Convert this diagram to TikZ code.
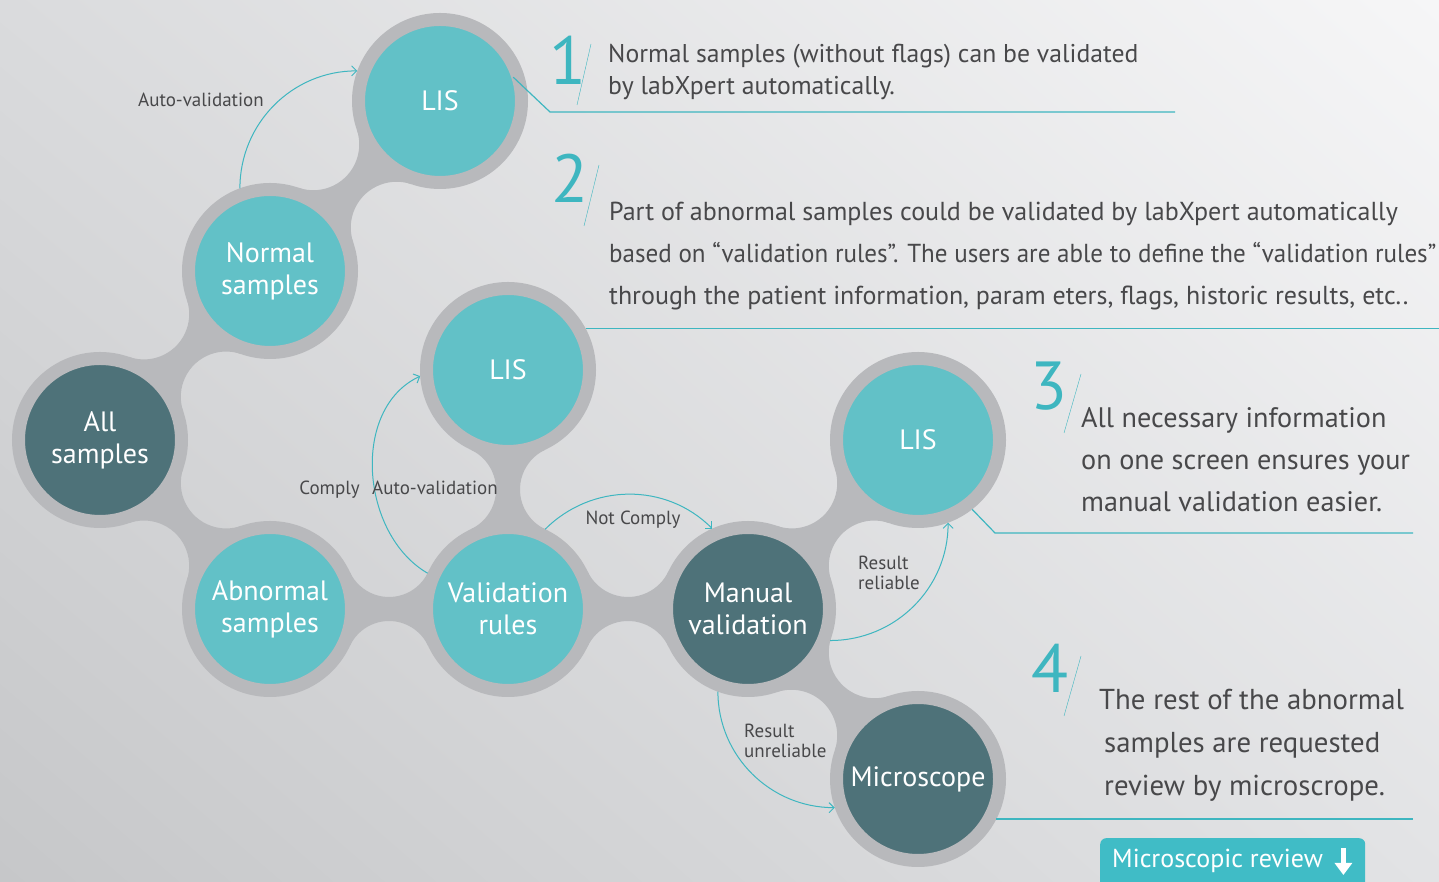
\documentclass[tikz,border=0pt]{standalone}
\usepackage{graphicx}
\usepackage{fontspec}
\setmainfont{PT Sans}
\usetikzlibrary{calc,arrows.meta,shadings}
\definecolor{ringgray}{RGB}{184,185,188}
\definecolor{cyanfill}{RGB}{98,193,199}
\definecolor{darkfill}{RGB}{78,114,121}
\definecolor{lineteal}{RGB}{62,182,192}
\definecolor{btnteal}{RGB}{64,188,198}
\definecolor{textgray}{RGB}{72,72,74}
\definecolor{bgUL}{RGB}{218,219,221}
\definecolor{bgUR}{RGB}{246,246,247}
\definecolor{bgLL}{RGB}{198,199,201}
\definecolor{bgLR}{RGB}{226,227,229}

% waist between two bubbles, #3 = half width of the waist
\newcommand{\neck}[3]{%
  \fill[ringgray] let \p1=(#1), \p2=(#2),
    \n1={veclen(\x2-\x1,\y2-\y1)/2},
    \n2={atan2(\y2-\y1,\x2-\x1)},
    \n3={(\n1/(88-#3)*\n1-88-#3)/2},
    \n4={atan((\n3+#3)/\n1)}
  in (\p1) -- ($(\p1)+(\n2+\n4:88)$)
     arc[start angle=\n2+\n4-180, delta angle=180-2*\n4, radius=\n3]
     -- (\p2) -- ($(\p2)+(\n2+180+\n4:88)$)
     arc[start angle=\n2+\n4, delta angle=180-2*\n4, radius=\n3] -- cycle;}

\begin{document}
\begin{tikzpicture}[x=1pt, y=1pt,
  bubble/.style={circle, draw=ringgray, line width=13pt, minimum size=163pt, inner sep=0pt,
    text=white, align=center, font=\fontsize{28}{32}\selectfont},
  lightbub/.style={bubble, fill=cyanfill},
  darkbub/.style={bubble, fill=darkfill},
  flow/.style={lineteal, line width=1pt, -{Straight Barb[length=5pt,width=10pt]}},
  lbl/.style={text=textgray, font=\fontsize{19}{20}\selectfont, inner sep=0pt, align=left},
  lead/.style={lineteal, line width=1.2pt},
  num/.style={text=lineteal, font=\fontsize{68}{68}\selectfont, inner sep=0pt, anchor=base},
  para/.style={text=textgray, anchor=base west, inner sep=0pt, align=left}]
\useasboundingbox (0,0) rectangle (1439,882);
\clip (0,0) rectangle (1439,882);
\shade[upper left=bgUL, upper right=bgUR, lower left=bgLL, lower right=bgLR] (0,0) rectangle (1439,882);

\coordinate (cAll) at (100,442);
\coordinate (cNormal) at (270,611);
\coordinate (cLisA) at (440,781);
\coordinate (cAbn) at (270,273);
\coordinate (cValid) at (508,273);
\coordinate (cLisB) at (508,512);
\coordinate (cManual) at (748,273);
\coordinate (cLisC) at (918,442);
\coordinate (cMicro) at (918,103);

\neck{cAll}{cNormal}{13}
\neck{cAll}{cAbn}{13}
\neck{cNormal}{cLisA}{13}
\neck{cAbn}{cValid}{12}
\neck{cValid}{cLisB}{12}
\neck{cValid}{cManual}{12}
\neck{cManual}{cLisC}{13}
\neck{cManual}{cMicro}{13}

\node[darkbub] (all) at (cAll) {All\\samples};
\node[lightbub] (normal) at (cNormal) {Normal\\samples};
\node[lightbub] (lisA) at (cLisA) {LIS};
\node[lightbub] (abn) at (cAbn) {Abnormal\\samples};
\node[lightbub] (valid) at (cValid) {Validation\\rules};
\node[lightbub] (lisB) at (cLisB) {LIS};
\node[darkbub] (manual) at (cManual) {Manual\\validation};
\node[lightbub] (lisC) at (cLisC) {LIS};
\node[darkbub] (micro) at (cMicro) {Microscope};

\draw[flow] (normal.110) to[out=90,in=180] (lisA.160);
\node[lbl] (autoA) at (201,782) {Auto-validation};
\draw[flow] (valid.156) to[out=150,in=205] (lisB.184);
\node[lbl, anchor=base east] (comply) at (360,387) {Comply};
\node[lbl, anchor=base west] (autoB) at (372,387) {Auto-validation};
\draw[flow] (valid.65) to[out=45,in=135] (manual.114);
\node[lbl] (notcomply) at (633,362) {Not Comply};
\draw[flow] (manual.339) to[out=0,in=270] (lisC.290);
\node[lbl, anchor=west] (reliable) at (858,309) {Result\\reliable};
\draw[flow] (manual.250) to[out=270,in=180] (micro.199);
\node[lbl, anchor=west] (unreliable) at (744,141) {Result\\unreliable};

\draw[lead] (lisA.center) ++(18:77) -- (550,770) -- (1175,770);
\draw[lead] (lisB.28.5) -- ++(860,0);
\draw[lead] (lisC.center) ++(-52:88) -- (995,349) -- (1413,349);
\draw[lead] (micro.333) -- ++(417,0);

\node[num] (n1) at (568,797) {1};
\draw[lineteal] (591,838) -- (577,777);
\node[num] (n2) at (570,679) {2};
\draw[lineteal] (599,717) -- (584,656);
\node[num] (n3) at (1049,472) {3};
\draw[lineteal] (1081,508) -- (1064,449);
\node[num] (n4) at (1050,189) {4};
\draw[lineteal] (1081,226) -- (1064,166);

\node[para, font=\fontsize{25.7}{32}\selectfont] (p1) at (608,787)
  {Normal samples (without flags) can be validated\\by labXpert automatically.};
\node[para, font=\fontsize{26}{42}\selectfont] (p2) at (609,577)
  {Part of abnormal samples could be validated by labXpert automatically\\\scalebox{0.963}[1]{based on “validation rules”. The users are able to define the “validation rules”}\\through the patient information, param eters, flags, historic results, etc..};
\node[para, font=\fontsize{28.2}{42}\selectfont] (p3) at (1081,370)
  {All necessary information\\on one screen ensures your\\manual validation easier.};
\node[para, font=\fontsize{28.8}{43}\selectfont] (p4) at (1099,86)
  {The rest of the abnormal\\\hspace*{5pt}samples are requested\\\hspace*{5pt}review by microscrope.};

\node[anchor=north west, fill=btnteal, rounded corners=6pt, text=white, font=\fontsize{26}{30}\selectfont,
  inner xsep=12pt, inner ysep=0pt, text height=29pt, text depth=30pt] (review) at (1100,44)
  {\makebox[241pt][l]{Microscopic review}};
\draw[white, line width=5pt, -{Triangle[width=17pt,length=12pt]}] ([xshift=-22pt,yshift=-10pt]review.north east) -- ++(0,-27pt);
\end{tikzpicture}
\end{document}
